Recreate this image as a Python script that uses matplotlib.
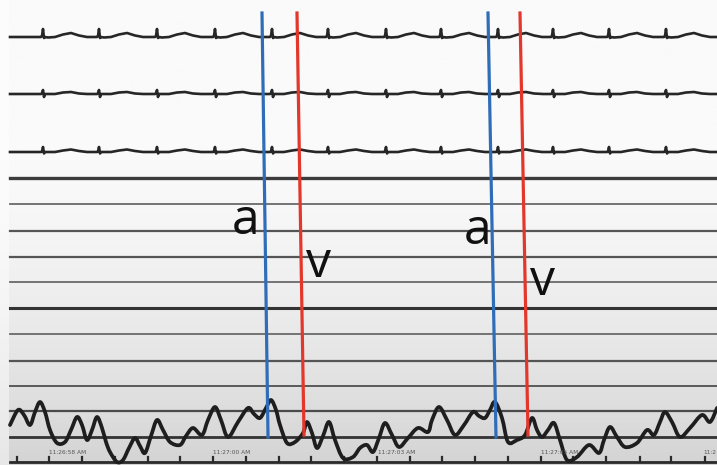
import numpy as np
import matplotlib
matplotlib.use("Agg")
import matplotlib.pyplot as plt
from matplotlib.path import Path
from matplotlib.patches import PathPatch

# ---------------- data (picture units: x to the right, y downward) ----------------
# ECG channels: baseline level, beat positions and beat shapes
ecg_baselines = [37, 94, 152]
beat_positions = [43, 99, 157, 215, 272, 328, 386, 441, 498, 553, 609, 666]
beat_offsets = [-10, -2, -1, 0, 1, 2, 5, 12, 20, 28, 36, 44]
beat_shape_1 = [0, 0, 1, 8, -1, 0, -0.5, 0, 2.5, 4, 1.5, 0]
beat_shape_2 = [0, 0, 0.5, 4, -3, 0, 0, 0, 1.5, 2, 0.5, 0]
beat_shape_3 = [0, 0, 0.5, 5, -1.5, 0, 0, 0, 1.5, 2.5, 1, 0]
beat_shapes = [beat_shape_1, beat_shape_2, beat_shape_3]

# empty channel lines
grid_levels = [178, 204, 231, 257, 282, 308, 334, 361, 386, 411, 437]
grid_widths = [2.4, 1.3, 1.6, 1.6, 1.3, 2.2, 1.3, 1.6, 1.4, 1.6, 2.0]
grid_colors = ["#3c3c3c", "#6a6a6a", "#555555", "#555555", "#6a6a6a", "#333333",
               "#6a6a6a", "#555555", "#5a5a5a", "#4a4a4a", "#333333"]

# bottom wave trace
wave_x = [10, 18, 24, 30, 35, 40, 45, 50, 57, 65, 71, 77, 82, 87, 92, 97, 102, 106,
          110, 117, 123, 129, 135, 140, 145, 151, 157, 163, 170, 180, 186, 193, 202,
          208, 215, 221, 228, 238, 248, 254, 260, 266, 271, 276, 280, 287, 295, 303,
          307, 312, 317, 323, 329, 335, 343, 353, 360, 367, 373, 379, 385, 392, 399,
          408, 418, 428, 432, 439, 447, 455, 464, 473, 479, 485, 490, 495, 502, 508,
          517, 525, 532, 537, 542, 548, 554, 560, 567, 577, 589, 599, 604, 610, 617,
          625, 637, 647, 654, 660, 665, 672, 680, 690, 702, 710, 717]
wave_y = [425, 410, 415, 425, 412, 402, 412, 430, 443, 442, 430, 417, 425, 440, 430,
          417, 428, 442, 452, 462, 460, 448, 438, 446, 453, 436, 420, 430, 442, 445,
          436, 428, 435, 420, 407, 420, 437, 422, 408, 414, 418, 408, 400, 410, 425,
          443, 442, 433, 422, 433, 448, 436, 422, 440, 458, 457, 448, 445, 452, 438,
          423, 435, 447, 438, 428, 432, 420, 407, 420, 435, 425, 412, 416, 418, 410,
          402, 418, 442, 440, 435, 418, 430, 437, 430, 423, 440, 460, 457, 445, 453,
          440, 427, 437, 447, 443, 430, 435, 422, 412, 422, 437, 428, 415, 422, 408]

time_tick_x = [17, 49, 82, 115, 148, 180, 213, 246, 279, 311, 344, 377, 410, 442,
               475, 508, 541, 573, 606, 640, 671, 705]
time_labels = ["11:26:58 AM", "11:27:00 AM", "11:27:03 AM", "11:27:05 AM", "11:2"]
time_label_x = [68, 232, 397, 560, 716]

# a / v marker lines (top x, bottom x)
a_top_x = [262, 488]
a_bot_x = [268, 496]
v_top_x = [297, 520]
v_bot_x = [304, 528]
marker_top = 13
marker_bottom = 437
a_label_pos = [(246, 221), (478, 231)]
v_label_pos = [(319, 264), (543, 282)]

# ---------------- figure ----------------
W, H = 717, 465
fig = plt.figure(figsize=(W / 100, H / 100), dpi=100)
ax = fig.add_axes([0, 0, 1, 1])
ax.set_xlim(0, W)
ax.set_ylim(H, 0)
ax.axis("off")

# background: white at top fading to light grey at bottom
rows = np.linspace(0, 1, 200)
shade = 250 - 38 * np.clip((rows - 0.35) / 0.65, 0, 1) ** 1.4
bg = np.repeat(shade[:, None], 2, axis=1) / 255.0
ax.imshow(np.dstack([bg, bg, bg]), extent=[0, W, H, 0], aspect="auto", zorder=0,
          interpolation="bilinear")
ax.axvspan(0, 9, color="white", alpha=0.45, lw=0, zorder=0.5)

# ECG traces
for base, shape in zip(ecg_baselines, beat_shapes):
    xs = [10]
    ys = [base]
    for b in beat_positions:
        for off, val in zip(beat_offsets, shape):
            xs.append(b + off)
            ys.append(base - val)
    xs.append(W)
    ys.append(base)
    ax.plot(xs, ys, color="#262626", lw=1.9, solid_joinstyle="round", zorder=3)

# empty channel lines
for lvl, lw, c in zip(grid_levels, grid_widths, grid_colors):
    ax.plot([10, W], [lvl, lvl], color=c, lw=lw, zorder=2)

# bottom axis with ticks
ax.plot([10, W], [462, 462], color="#2a2a2a", lw=2.0, zorder=2)
for tx in time_tick_x:
    ax.plot([tx, tx], [462, 457], color="#2a2a2a", lw=1.6, zorder=2)
for lab, lx in zip(time_labels, time_label_x):
    ha = "right" if lab == time_labels[-1] else "center"
    ax.text(lx, 452, lab, fontsize=4.2, color="#555555", ha=ha, va="center",
            zorder=4)

# bottom wave, drawn as a smooth curve through the read points
px = np.asarray(wave_x, float)
py = np.asarray(wave_y, float)
verts = [(px[0], py[0])]
codes = [Path.MOVETO]
n = len(px)
for i in range(n - 1):
    p0 = np.array([px[max(i - 1, 0)], py[max(i - 1, 0)]])
    p1 = np.array([px[i], py[i]])
    p2 = np.array([px[i + 1], py[i + 1]])
    p3 = np.array([px[min(i + 2, n - 1)], py[min(i + 2, n - 1)]])
    c1 = p1 + (p2 - p0) / 6.0
    c2 = p2 - (p3 - p1) / 6.0
    verts += [tuple(c1), tuple(c2), tuple(p2)]
    codes += [Path.CURVE4, Path.CURVE4, Path.CURVE4]
ax.add_patch(PathPatch(Path(verts, codes), facecolor="none", edgecolor="#1e1e1e",
                       lw=2.7, joinstyle="round", capstyle="round", zorder=3))

# a / v lines
for tx, bx in zip(a_top_x, a_bot_x):
    ax.plot([tx, bx], [marker_top, marker_bottom], color="#2f6db8", lw=2.3, zorder=5)
for tx, bx in zip(v_top_x, v_bot_x):
    ax.plot([tx, bx], [marker_top, marker_bottom - 2], color="#e3372b", lw=2.3, zorder=5)

for (x, y) in a_label_pos:
    ax.text(x, y, "a", fontsize=36, family="Open Sans", color="#111111",
            ha="center", va="center", zorder=6)
for (x, y) in v_label_pos:
    ax.text(x, y, "v", fontsize=36, family="Open Sans", color="#111111",
            ha="center", va="center", zorder=6)

fig.savefig("out.png", dpi=100)
